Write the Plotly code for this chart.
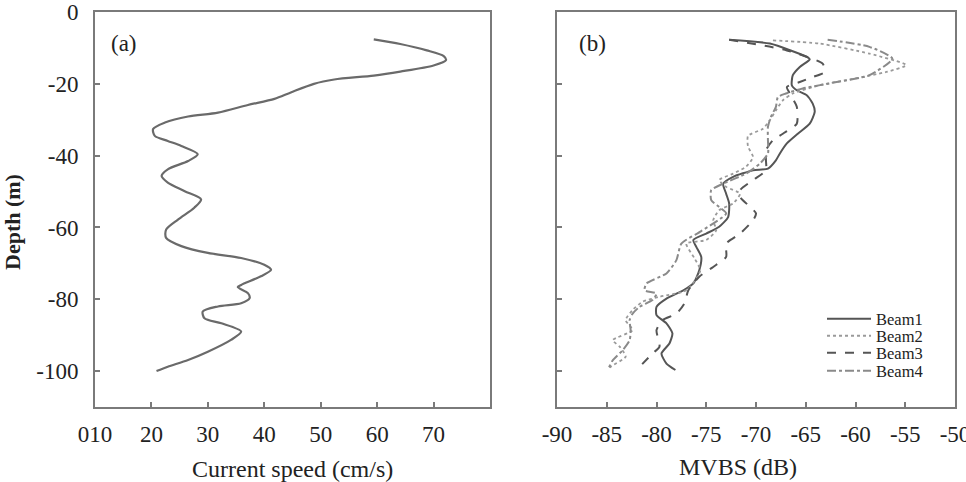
import plotly.graph_objects as go

# Panel (a): current speed profile
speed = [59.4, 64.1, 68.8, 71.8, 72.2, 70.0, 64.1, 59.4, 52.4, 48.8, 44.7, 41.8, 37.1, 31.8, 26.5, 22.4,
         20.3, 20.6, 22.9, 25.3, 28.2, 26.5, 22.9, 21.8, 22.9, 25.9, 28.8, 27.6, 24.7, 22.6, 22.6, 25.3,
         30.0, 35.9, 40.0, 41.2, 39.4, 35.9, 35.3, 37.1, 37.4, 35.9, 31.8, 29.1, 29.4, 32.4, 35.9, 34.1,
         30.0, 26.5, 22.9, 20.9]
depth_a = [-7.6, -8.9, -10.7, -12.3, -13.4, -14.9, -16.6, -17.7, -18.8, -20.0, -22.4, -24.2, -25.9, -28.0,
           -29.1, -30.8, -32.6, -34.5, -35.9, -37.3, -39.6, -41.5, -43.8, -45.7, -47.5, -49.9, -52.2, -54.5,
           -57.8, -60.6, -62.9, -65.2, -67.1, -68.5, -70.4, -71.8, -73.6, -76.0, -76.6, -78.3, -79.7, -81.1,
           -82.0, -83.4, -85.3, -86.7, -89.0, -91.3, -94.6, -96.9, -98.8, -100.0]

# Panel (b): MVBS per beam
b1_x = [-72.7, -68.6, -64.9, -64.6, -65.6, -66.3, -66.4, -65.9, -64.9, -64.3, -64.1, -64.6, -65.8, -66.9,
        -67.6, -68.0, -68.8, -70.3, -72.3, -73.3, -73.0, -72.7, -72.8, -73.7, -75.0, -76.3, -76.0, -75.5,
        -75.7, -76.3, -77.3, -79.0, -80.0, -80.0, -79.0, -78.4, -78.7, -79.5, -79.0, -78.1]
b1_y = [-7.7, -8.8, -12.5, -13.2, -15.3, -17.6, -20.4, -21.8, -23.2, -25.5, -27.8, -31.1, -33.9, -36.6,
        -39.4, -41.3, -43.6, -44.1, -45.9, -47.8, -50.6, -53.3, -57.1, -59.8, -61.7, -63.5, -65.4, -68.2,
        -71.9, -75.6, -77.5, -79.8, -82.1, -84.4, -86.7, -89.5, -92.3, -95.1, -97.9, -99.7]

b2_x = [-68.3, -63.6, -58.6, -54.9, -56.9, -60.2, -63.6, -66.3, -67.3, -68.0, -68.6, -69.3, -70.8, -70.8,
        -70.3, -71.0, -72.3, -73.7, -73.0, -71.6, -72.3, -73.7, -74.3, -74.0, -75.0, -77.0, -76.2, -75.6,
        -77.0, -79.7, -81.4, -82.4, -83.1, -82.4, -84.4, -83.7, -83.1, -84.6, -84.7]
b2_y = [-7.9, -8.8, -11.6, -14.8, -16.7, -18.6, -20.4, -22.7, -24.6, -27.4, -30.1, -32.5, -34.5, -37.5,
        -40.4, -43.1, -45.0, -46.8, -48.7, -50.6, -53.3, -55.2, -58.0, -60.8, -63.5, -64.5, -68.5, -72.0,
        -77.5, -79.3, -80.7, -83.0, -85.8, -88.6, -91.4, -93.2, -96.0, -98.8, -99.7]

b3_x = [-72.7, -66.9, -63.3, -63.1, -64.3, -65.6, -66.9, -66.6, -65.9, -65.9, -67.3, -68.3, -69.0, -69.0,
        -69.0, -70.3, -71.6, -71.6, -70.0, -70.3, -71.6, -73.0, -73.0, -74.3, -75.7, -76.8, -77.2, -78.0,
        -79.4, -80.0, -79.7, -80.4, -81.7]
b3_y = [-7.7, -10.7, -14.4, -16.7, -18.1, -19.5, -20.9, -22.7, -26.4, -31.1, -33.9, -35.7, -38.5, -41.3,
        -44.1, -46.8, -49.6, -51.5, -56.1, -58.0, -61.7, -64.5, -68.2, -71.0, -73.7, -77.5, -81.2, -84.0,
        -85.8, -88.6, -93.2, -95.1, -98.8]

b4_x = [-62.8, -58.6, -56.3, -58.6, -61.9, -65.3, -67.0, -67.8, -68.0, -68.5, -68.8, -68.8, -68.8, -69.6,
        -71.0, -73.3, -74.5, -74.5, -73.7, -73.0, -75.5, -77.5, -78.0, -79.0, -81.0, -81.2, -80.0, -80.4,
        -81.7, -82.4, -82.7, -82.6, -82.7, -83.4, -84.4, -84.9]
b4_y = [-7.7, -9.7, -13.0, -17.6, -19.5, -21.3, -22.7, -23.7, -26.4, -29.2, -32.0, -35.7, -39.4, -42.2,
        -45.0, -47.8, -49.6, -52.4, -54.3, -56.1, -61.0, -64.5, -69.1, -72.8, -75.6, -77.5, -78.4, -80.2,
        -82.1, -84.0, -85.8, -88.6, -91.4, -94.2, -97.0, -99.7]

a_ticks = [10, 20, 30, 40, 50, 60, 70]
a_ticktext = ["010", "20", "30", "40", "50", "60", "70"]
b_ticks = [-90, -85, -80, -75, -70, -65, -60, -55, -50]
b_ticktext = ["-90", "-85", "-80", "-75", "-70", "-65", "-60", "-55", "-50"]
y_ticks = [0, -20, -40, -60, -80, -100]
y_ticktext = ["0", "-20", "-40", "-60", "-80", "-100"]

FONT = "Liberation Serif"
FRAME = "#7a7a7a"
TXT = "#222222"

fig = go.Figure()
fig.add_trace(go.Scatter(x=speed, y=depth_a, mode="lines", xaxis="x", yaxis="y",
                         line=dict(color="#6a6a6a", width=2.2, shape="spline", smoothing=0.8),
                         showlegend=False))
fig.add_trace(go.Scatter(x=b1_x, y=b1_y, mode="lines", name="Beam1", xaxis="x2", yaxis="y2", legend="legend",
                         line=dict(color="#555555", width=2, shape="spline", smoothing=0.6)))
fig.add_trace(go.Scatter(x=b2_x, y=b2_y, mode="lines", name="Beam2", xaxis="x2", yaxis="y2", legend="legend2",
                         line=dict(color="#9a9a9a", width=1.8, dash="dot", shape="spline", smoothing=0.6)))
fig.add_trace(go.Scatter(x=b3_x, y=b3_y, mode="lines", name="Beam3", xaxis="x2", yaxis="y2", legend="legend3",
                         line=dict(color="#555555", width=2, dash="dash", shape="spline", smoothing=0.6)))
fig.add_trace(go.Scatter(x=b4_x, y=b4_y, mode="lines", name="Beam4", xaxis="x2", yaxis="y2", legend="legend4",
                         line=dict(color="#8a8a8a", width=2, dash="dashdot", shape="spline", smoothing=0.6)))

ax_common = dict(showline=True, mirror=True, linecolor=FRAME, linewidth=2, showgrid=False,
                 zeroline=False, ticks="inside", ticklen=5, tickcolor=FRAME, tickwidth=1.5,
                 automargin=False, ticklabeloverflow="allow",
                 tickfont=dict(family=FONT, size=23, color=TXT))


def leg(row_y):
    return dict(x=822/966, y=1-row_y/482, xanchor="left", yanchor="middle", bgcolor="rgba(0,0,0,0)",
                font=dict(family=FONT, size=16.5, color=TXT), itemwidth=44, borderwidth=0)


def ann(text, x, y, size, angle=0):
    return dict(text=text, x=x/966, y=1-y/482, xref="paper", yref="paper", showarrow=False,
                xanchor="center", yanchor="middle", textangle=angle,
                font=dict(family=FONT, size=size, color=TXT))


fig.update_layout(
    template="none",
    width=966, height=482,
    margin=dict(l=0, r=0, t=0, b=0),
    paper_bgcolor="white", plot_bgcolor="white",
    font=dict(family=FONT, color=TXT),
    xaxis=dict(domain=[95/966, 490/966], range=[10, 80], tickvals=a_ticks, ticktext=a_ticktext,
               anchor="y", ticklabelstandoff=5, **ax_common),
    yaxis=dict(domain=[1-407/482, 1-12/482], range=[-110, 0], tickvals=y_ticks, ticktext=y_ticktext,
               anchor="x", ticklabelstandoff=10, **ax_common),
    xaxis2=dict(domain=[557/966, 955/966], range=[-90, -50], tickvals=b_ticks, ticktext=b_ticktext,
                anchor="y2", ticklabelstandoff=5, **ax_common),
    yaxis2=dict(domain=[1-407/482, 1-12/482], range=[-110, 0], tickvals=y_ticks, anchor="x2",
                showticklabels=False, **ax_common),
    legend=leg(319),
    legend2=leg(336),
    legend3=leg(353),
    legend4=leg(371),
    annotations=[
        ann("(a)", 124, 43, 23),
        ann("(b)", 592, 43, 23),
        ann("<b>Depth (m)</b>", 13, 222, 22, -90),
        ann("Current speed (cm/s)", 292, 469, 24),
        ann("MVBS (dB)", 738, 467, 24),
    ],
)

fig.write_html("out.html")
